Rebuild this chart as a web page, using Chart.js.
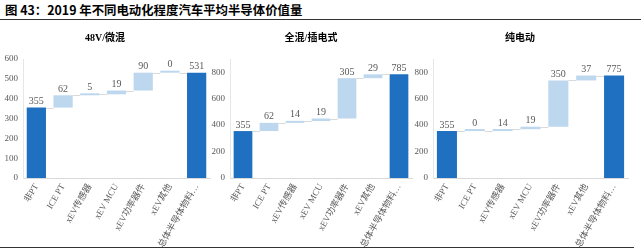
<!DOCTYPE html>
<html>
<head>
<meta charset="utf-8">
<script src="https://cdn.jsdelivr.net/npm/chart.js@4.4.1/dist/chart.umd.min.js"></script>
<style>
  body { margin: 0; width: 641px; height: 250px; background: #fff; position: relative; overflow: hidden; font-family: 'Noto Sans CJK SC', sans-serif; }
  #titulo { position: absolute; left: 5px; top: 1px; font-size: 12.4px; font-weight: bold; color: #000; white-space: nowrap; }
  #linhaTopo { position: absolute; left: 0; top: 19px; width: 641px; height: 1px; background: #333; }
  #linhaBase { position: absolute; left: 0; top: 247px; width: 634px; height: 1px; background: #333; }
  .painel { position: absolute; top: 28px; height: 219px; }
</style>
</head>
<body>
<div id="titulo">图 43：2019 年不同电动化程度汽车平均半导体价值量</div>
<div id="linhaTopo"></div>
<div class="painel" style="left:0px;width:212px"><canvas id="g1"></canvas></div>
<div class="painel" style="left:210px;width:204px"><canvas id="g2"></canvas></div>
<div class="painel" style="left:412px;width:229px"><canvas id="g3"></canvas></div>
<div id="linhaBase"></div>
<script>
// categorias e valores
const categorias = ['非PT', 'ICE PT', 'xEV传感器', 'xEV MCU', 'xEV功率器件', 'xEV其他', '总体半导体物料…'];
const titulos = ['48V/微混', '全混/插电式', '纯电动'];
const valores48V = [355, 62, 5, 19, 90, 0, 531];
const valoresHibrido = [355, 62, 14, 19, 305, 29, 785];
const valoresEletrico = [355, 0, 14, 19, 350, 37, 775];
const maximosY = [600, 900, 900];
const passoY = 100;

const azulEscuro = '#1F70C1';
const azulClaro = '#BDD7EE';
const fonteSerif = "'Liberation Serif', 'Noto Sans CJK SC', serif";

// monta as barras flutuantes da cascata
function montarFaixas(valores) {
    let acum = 0;
    return valores.map((v, i) => {
        if (i === 0) { acum = v; return [0, v]; }
        if (i === valores.length - 1) return [0, v];
        const f = [acum, acum + v];
        acum += v;
        return f;
    });
}

// rótulos de dados e linhas de ligação
const pluginRotulos = {
    id: 'rotulos',
    afterDatasetsDraw(chart) {
        const ctx = chart.ctx;
        const meta = chart.getDatasetMeta(0);
        const ds = chart.data.datasets[0];
        const y = chart.scales.y;
        ctx.save();
        ctx.strokeStyle = '#d9d9d9';
        ctx.lineWidth = 1;
        for (let i = 0; i < meta.data.length - 1; i++) {
            const a = meta.data[i], b = meta.data[i + 1];
            const nivel = Math.round(y.getPixelForValue(ds.data[i][1])) + 0.5;
            ctx.beginPath();
            ctx.moveTo(a.x + a.width / 2, nivel);
            ctx.lineTo(b.x - b.width / 2, nivel);
            ctx.stroke();
        }
        ctx.fillStyle = '#595959';
        ctx.font = '10px ' + fonteSerif;
        ctx.textAlign = 'center';
        ctx.textBaseline = 'bottom';
        meta.data.forEach((barra, i) => {
            const topo = Math.min(barra.y, barra.base);
            ctx.fillText(String(ds.valores[i]), barra.x, topo - 1);
        });
        ctx.restore();
    }
};

function criarGrafico(id, titulo, valores, maxY, larguraY, margemDir) {
    const cores = valores.map((v, i) => (i === 0 || i === valores.length - 1) ? azulEscuro : azulClaro);
    return new Chart(document.getElementById(id).getContext('2d'), {
        type: 'bar',
        data: {
            labels: categorias,
            datasets: [{
                data: montarFaixas(valores),
                valores: valores,
                backgroundColor: cores,
                borderWidth: 0,
                minBarLength: 2,
                categoryPercentage: 1,
                barPercentage: 0.72
            }]
        },
        options: {
            responsive: true,
            maintainAspectRatio: false,
            animation: false,
            layout: { padding: { left: 0, right: margemDir, top: 0, bottom: 0 } },
            plugins: {
                legend: { display: false },
                tooltip: { enabled: false },
                title: {
                    display: true,
                    text: titulo,
                    color: '#000',
                    font: { size: 10, weight: 'bold', family: fonteSerif },
                    padding: { top: 4, bottom: 15 }
                }
            },
            scales: {
                x: {
                    grid: { display: false, drawTicks: false },
                    border: { color: '#d9d9d9' },
                    ticks: {
                        color: '#595959',
                        font: { size: 9, family: fonteSerif },
                        minRotation: 60,
                        maxRotation: 60,
                        autoSkip: false,
                        padding: 4
                    },
                    afterFit(s) { s.height = 69; }
                },
                y: {
                    min: 0,
                    max: maxY,
                    grid: { display: false, drawTicks: false },
                    border: { color: '#e6e6e6' },
                    ticks: {
                        stepSize: passoY,
                        color: '#595959',
                        font: { size: 9, family: fonteSerif },
                        padding: 5
                    },
                    afterFit(s) { s.width = larguraY; }
                }
            }
        },
        plugins: [pluginRotulos]
    });
}

criarGrafico('g1', titulos[0], valores48V, maximosY[0], 23, 2);
criarGrafico('g2', titulos[1], valoresHibrido, maximosY[1], 20, 2);
criarGrafico('g3', titulos[2], valoresEletrico, maximosY[2], 21, 13);
</script>
</body>
</html>
